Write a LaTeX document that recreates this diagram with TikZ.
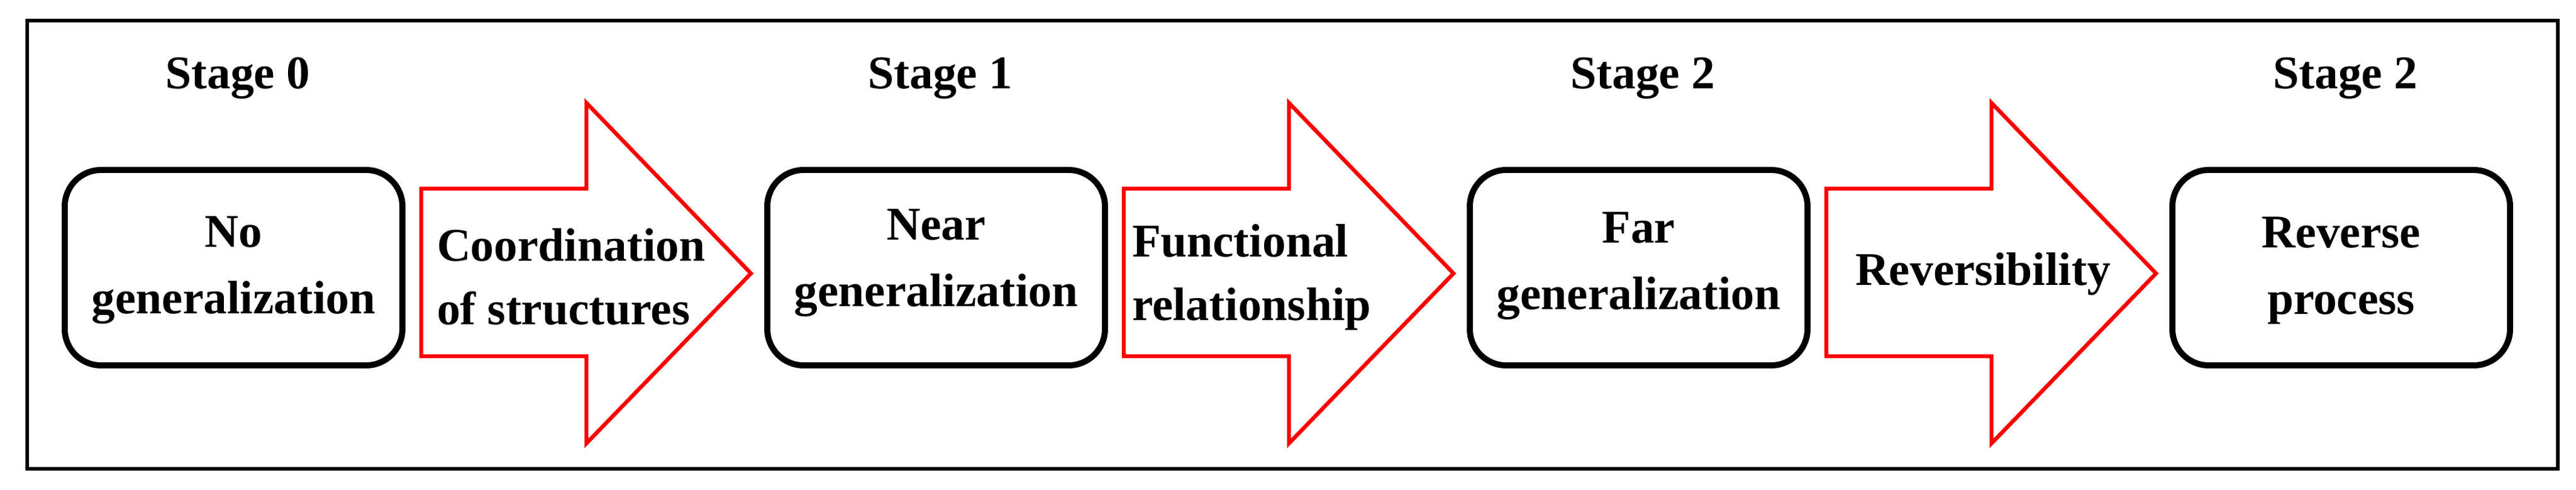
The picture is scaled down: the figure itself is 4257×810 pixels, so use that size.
\documentclass[tikz,border=0pt]{standalone}
\usepackage{fontspec}
\setmainfont{Liberation Serif}
\begin{document}
\begin{tikzpicture}[x=0.2pt,y=-0.2pt,
  box/.style={draw=black,line width=2pt,rounded corners=12pt},
  arr/.style={draw=red,line width=1.3pt,fill=white},
  txt/.style={font=\fontsize{15.5}{22}\selectfont\bfseries,align=center,inner sep=0pt},
  ltxt/.style={font=\fontsize{15.5}{21}\selectfont\bfseries,align=left,anchor=west,inner sep=0pt}]
\useasboundingbox (0,0) rectangle (4257,810);
\draw[line width=1.3pt] (45,34) rectangle (4227,775);
\foreach \i/\s in {0/Stage 0,1/Stage 1,2/Stage 2,3/Stage 2}{
  \node[txt] (s\i) at (393+1161*\i,129) {\s};
  \draw[box] (107+1161*\i,281) rectangle (665+1161*\i,604);
}
\foreach \i in {0,1,2}{
  \draw[arr] (696+1161*\i,312) -- (969+1161*\i,312) -- (969+1161*\i,170) -- (1241+1161*\i,452)
   -- (969+1161*\i,733) -- (969+1161*\i,589) -- (696+1161*\i,589) -- cycle;
}
\node[txt] (b0) at (386,447) {No\\generalization};
\node[txt] (b1) at (1547,435) {Near\\generalization};
\node[txt] (b2) at (2708,440) {Far\\generalization};
\node[txt] (b3) at (3869,447) {Reverse\\process};
\node[ltxt] (a0) at (721,458) {Coordination\\of structures};
\node[ltxt] (a1) at (1870,458) {Functional\\relationship};
\node[ltxt] (a2) at (3065,453) {Reversibility};
\end{tikzpicture}
\end{document}
